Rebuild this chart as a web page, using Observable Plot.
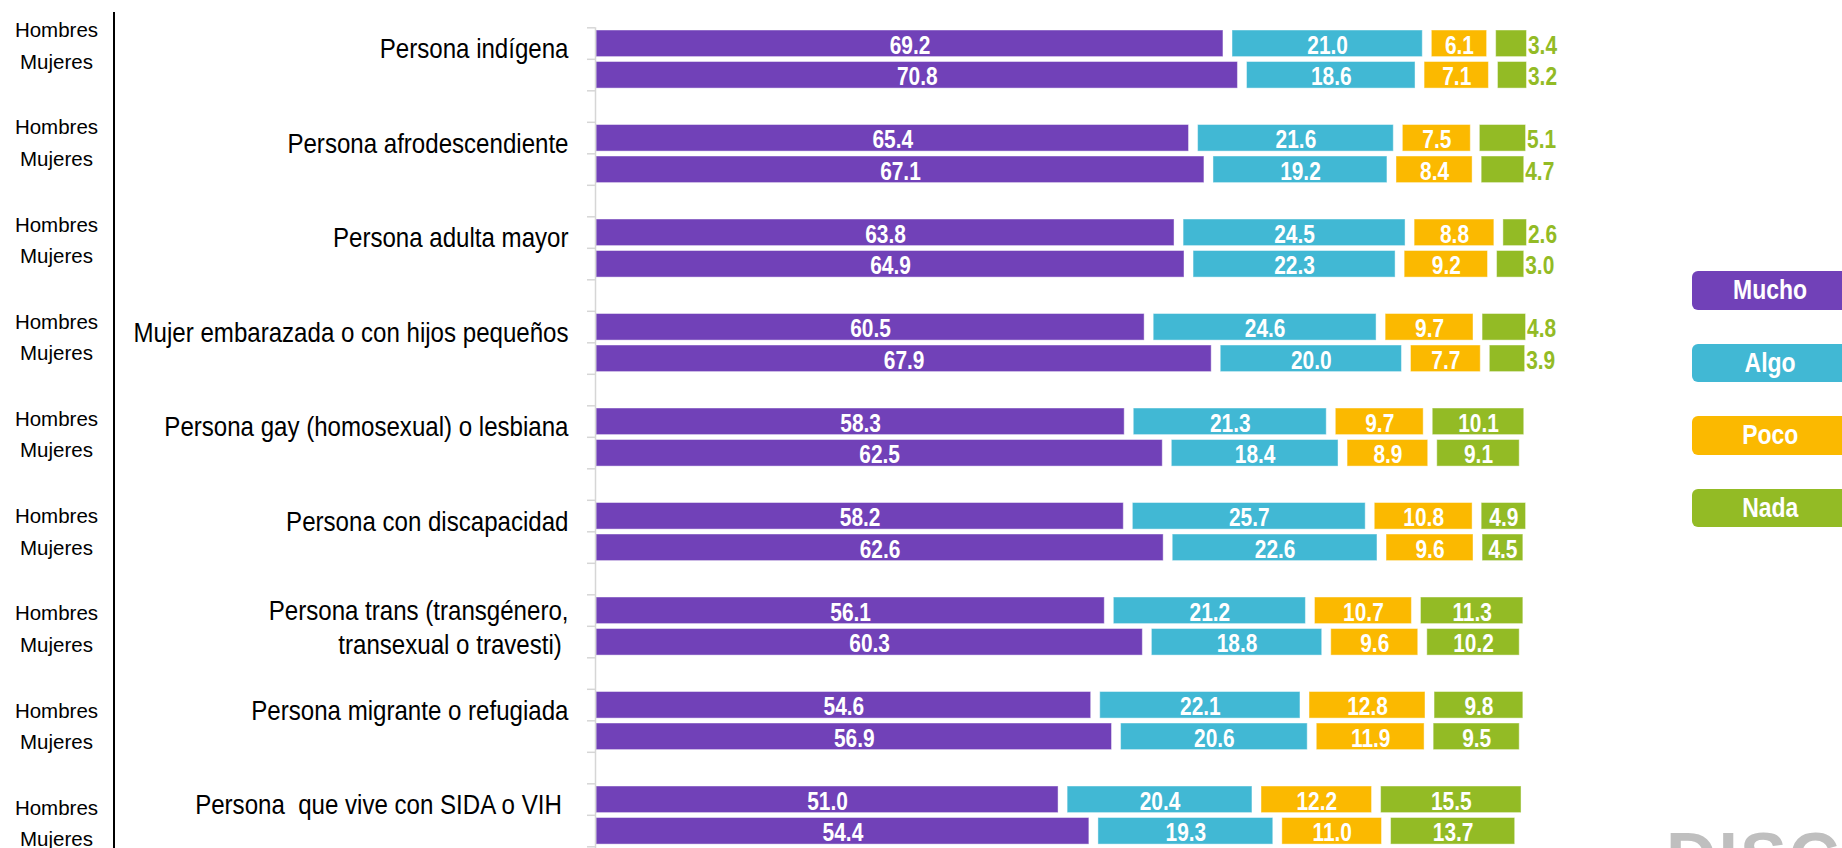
<!DOCTYPE html>
<html>
<head>
<meta charset="utf-8">
<script src="https://cdn.jsdelivr.net/npm/d3@7"></script>
<script src="https://cdn.jsdelivr.net/npm/@observablehq/plot@0.6"></script>
<style>
  html, body { margin: 0; padding: 0; background: #fff; }
  #wrap { position: relative; width: 1842px; height: 848px; overflow: hidden; background: #fff; }
  #chart { position: absolute; left: 0; top: 0; }
  .sexcol { position: absolute; left: 0; top: 14.3px; width: 113px; text-align: center;
            font-family: "Liberation Sans", Arial, sans-serif; font-size: 20.5px; color: #000; }
  .sexcol .grp { height: 97.2px; }
  .sexcol .ln { height: 31.3px; line-height: 31.3px; white-space: nowrap; }
  .vline { position: absolute; left: 113px; top: 12px; width: 2px; height: 836px; background: #000; }
  .legend { position: absolute; left: 1692px; top: 271px; }
  .legend .item { width: 157px; height: 38.6px; border-radius: 6px; color: #fff; font-weight: bold;
                  text-align: center; line-height: 38.6px; margin-bottom: 34px;
                  font-family: "Liberation Sans", Arial, sans-serif; font-size: 28px; }
  .legend .item span { display: inline-block; transform: scaleX(0.82); }
  .logo { position: absolute; left: 1666px; top: 823px; font-family: "Liberation Sans", Arial, sans-serif;
          font-weight: bold; font-size: 70px; line-height: 1; color: #bfbfbf; letter-spacing: 2px; white-space: nowrap; }
</style>
</head>
<body>
<div id="wrap">
  <div class="vline"></div>
  <div class="sexcol" id="sexcol"></div>
  <div id="chart"></div>
  <div class="legend" id="legend"></div>
  <div class="logo">DISC</div>
</div>
<script>
// ---------- data ----------
const categories = [
  "Persona indígena",
  "Persona afrodescendiente",
  "Persona adulta mayor",
  "Mujer embarazada o con hijos pequeños",
  "Persona gay (homosexual) o lesbiana",
  "Persona con discapacidad",
  "Persona trans (transgénero,\ntransexual o travesti) ",
  "Persona migrante o refugiada",
  "Persona  que vive con SIDA o VIH "
];
const sexes = ["Hombres", "Mujeres"];
const levels = ["Mucho", "Algo", "Poco", "Nada"];
const levelColors = ["#7141B8", "#41B8D4", "#FBB900", "#93BB25"];

const muchoH = [69.2, 65.4, 63.8, 60.5, 58.3, 58.2, 56.1, 54.6, 51.0];
const algoH  = [21.0, 21.6, 24.5, 24.6, 21.3, 25.7, 21.2, 22.1, 20.4];
const pocoH  = [ 6.1,  7.5,  8.8,  9.7,  9.7, 10.8, 10.7, 12.8, 12.2];
const nadaH  = [ 3.4,  5.1,  2.6,  4.8, 10.1,  4.9, 11.3,  9.8, 15.5];

const muchoM = [70.8, 67.1, 64.9, 67.9, 62.5, 62.6, 60.3, 56.9, 54.4];
const algoM  = [18.6, 19.2, 22.3, 20.0, 18.4, 22.6, 18.8, 20.6, 19.3];
const pocoM  = [ 7.1,  8.4,  9.2,  7.7,  8.9,  9.6,  9.6, 11.9, 11.0];
const nadaM  = [ 3.2,  4.7,  3.0,  3.9,  9.1,  4.5, 10.2,  9.5, 13.7];

// categories whose "Nada" value labels sit outside the bar
const nadaLabelOutside = [
  "Persona indígena", "Persona afrodescendiente", "Persona adulta mayor",
  "Mujer embarazada o con hijos pequeños"
];

const SANS = "'Liberation Sans', Arial, sans-serif";
const NARROW_VAL = 0.82;  // horizontal condensing of value labels (narrow face look)
const NARROW_CAT = 0.845; // horizontal condensing of category labels

// ---------- table ----------
const GAP = 1; // separation between segments, in percentage points
const seriesBySex = {
  Hombres: [muchoH, algoH, pocoH, nadaH],
  Mujeres: [muchoM, algoM, pocoM, nadaM]
};
const rows = [];
categories.forEach((cat, g) => {
  sexes.forEach((sex, si) => {
    let cum = 0;
    levels.forEach((level, k) => {
      const v = seriesBySex[sex][k][g];
      const x1 = cum + k * GAP;
      rows.push({
        cat, sex, level, value: v, x1, x2: x1 + v, row: 3 * g + si,
        outside: level === "Nada" && nadaLabelOutside.includes(cat)
      });
      cum += v;
    });
  });
});
const nRows = categories.length * 3;
const step = 31.5, y0 = 27.3;

const chart = Plot.plot({
  width: 1842,
  height: 848,
  marginLeft: 596,
  marginRight: 340,
  marginTop: 12,
  marginBottom: 0,
  style: {background: "transparent", overflow: "hidden"},
  x: {domain: [0, 100], axis: null},
  y: {type: "linear", domain: [0, nRows], range: [y0, y0 + nRows * step], axis: null},
  color: {domain: levels, range: levelColors},
  marks: [
    Plot.rect(rows, {
      x1: "x1", x2: "x2", y1: "row", y2: d => d.row + 1,
      fill: "level", insetTop: 2.7, insetBottom: 2.2,
      stroke: "#ffffff", strokeOpacity: 0.45, strokeWidth: 1
    }),
    Plot.ruleX([0], {y1: 0, y2: nRows, stroke: "#d6d6d6", strokeWidth: 1.5, dx: -1}),
    Plot.axisY({
      ticks: d3.range(0, nRows + 1), tickSize: 8, tickFormat: () => "",
      stroke: "#d6d6d6", strokeWidth: 1.5, label: null, dx: -1
    }),
    Plot.text(rows.filter(d => !d.outside), {
      x: d => (d.x1 + d.x2) / 2, y: d => d.row + 0.5,
      text: d => d.value.toFixed(1), fill: "#ffffff",
      fontFamily: SANS, fontSize: 25.5, fontWeight: "bold", dy: 2
    }),
    Plot.text(rows.filter(d => d.outside), {
      x: "x2", y: d => d.row + 0.5,
      text: d => d.value.toFixed(1), fill: levelColors[3], textAnchor: "start", dx: 1,
      fontFamily: SANS, fontSize: 25.5, fontWeight: "bold", dy: 2
    }),
    Plot.text(categories, {
      y: (c, i) => 3 * i + 0.5 + (c.split("\n").length - 1) * 0.37,
      text: d => d, frameAnchor: "left", textAnchor: "end", dx: -28, dy: 4,
      fill: "#000", fontFamily: SANS, fontSize: 28.5, lineHeight: 1.18
    })
  ]
});
document.getElementById("chart").appendChild(chart);

// condense the text marks horizontally around each text's anchor point
const textGroups = chart.querySelectorAll('g[aria-label="text"]');
textGroups.forEach((g, gi) => {
  const s = gi === textGroups.length - 1 ? NARROW_CAT : NARROW_VAL;
  g.querySelectorAll("text").forEach(t => {
    const x = parseFloat(t.getAttribute("x")) || 0;
    const tr = t.getAttribute("transform") || "";
    t.setAttribute("transform", `${tr} translate(${x},0) scale(${s},1) translate(${-x},0)`);
  });
});

// Hombres / Mujeres column
const sc = document.getElementById("sexcol");
categories.forEach(() => {
  const grp = document.createElement("div");
  grp.className = "grp";
  sexes.forEach(s => {
    const ln = document.createElement("div");
    ln.className = "ln"; ln.textContent = s;
    grp.appendChild(ln);
  });
  sc.appendChild(grp);
});

// legend
const lg = document.getElementById("legend");
levels.forEach((l, i) => {
  const it = document.createElement("div");
  it.className = "item";
  it.style.background = levelColors[i];
  const sp = document.createElement("span");
  sp.textContent = l;
  it.appendChild(sp);
  lg.appendChild(it);
});
</script>
</body>
</html>
